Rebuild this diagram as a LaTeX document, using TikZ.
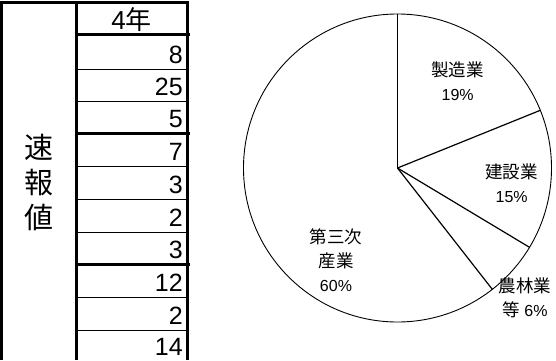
\documentclass[tikz,border=0pt]{standalone}
\usepackage{fontspec}
\setmainfont{Liberation Sans}
\newfontfamily\jp{Noto Sans CJK JP}
\newcommand\pjp{\fontsize{17.5}{24}\selectfont\jp}
\begin{document}
\begin{tikzpicture}[x=1pt,y=1pt,
  thickrule/.style={line width=3pt},
  thinrule/.style={line width=1pt},
  num/.style={anchor=base east, inner sep=0pt, font=\fontsize{25}{25}\selectfont},
  side/.style={inner sep=0pt, font=\fontsize{29}{29}\selectfont\jp},
  lbl/.style={inner sep=0pt, align=center, font=\fontsize{16}{24}\selectfont},
  slice/.style={line width=1.2pt},
]
\useasboundingbox (0,0) rectangle (556,360);
\fill[white] (0,0) rectangle (556,360);
% table rules
\draw[thinrule] (76.5,291) -- (187,291);
\draw[thinrule] (76.5,259) -- (187,259);
\draw[thinrule] (76.5,194) -- (187,194);
\draw[thinrule] (76.5,161) -- (187,161);
\draw[thinrule] (76.5,128) -- (187,128);
\draw[thinrule] (76.5,62.5) -- (187,62.5);
\draw[thinrule] (76.5,30) -- (187,30);
\draw[thickrule] (76.5,325.5) -- (190,325.5);
\draw[thickrule] (76.5,227) -- (190,227);
\draw[thickrule] (76.5,96) -- (190,96);
\draw[thickrule] (1.5,0) -- (1.5,357.5);
\draw[thickrule] (76.5,0) -- (76.5,357.5);
\draw[thickrule] (187,0) -- (187,357.5);
\draw[thickrule] (0,357.5) -- (188.5,357.5);
% header and values
\node[anchor=base, inner sep=0pt, font=\fontsize{26}{26}\selectfont] (yr) at (131.5,331) {4{\jp 年}};
\node[num] (v1) at (183,297) {8};
\node[num] (v2) at (183,265) {25};
\node[num] (v3) at (183,233) {5};
\node[num] (v4) at (183,200) {7};
\node[num] (v5) at (183,167) {3};
\node[num] (v6) at (183,134) {2};
\node[num] (v7) at (183,102) {3};
\node[num] (v8) at (183,68.5) {12};
\node[num] (v9) at (183,36) {2};
\node[num] (v10) at (183,5) {14};
\node[side] (s1) at (39,213) {速};
\node[side] (s2) at (39,177) {報};
\node[side] (s3) at (39,143) {値};
% pie
\node[circle, draw, line width=0.9pt, minimum size=308pt, inner sep=0pt] (pie) at (397.5,192) {};
\draw[slice] (pie.center) -- (pie.90);
\draw[slice] (pie.center) -- (pie.22);
\draw[slice] (pie.center) -- (pie.-31.5);
\draw[slice] (pie.center) -- (pie.-52.5);
\node[lbl] (l1) at (457.7,279) {{\pjp 製造業}\\19\%};
\node[lbl] (l2) at (511.7,176.7) {{\pjp 建設業}\\15\%};
\node[lbl] (l3) at (336,100) {{\pjp 第三次}\\{\pjp 産業}\\60\%};
\node[lbl] (l4) at (525,61.7) {{\pjp 農林業}\\{\pjp 等} 6\%};
\end{tikzpicture}
\end{document}
